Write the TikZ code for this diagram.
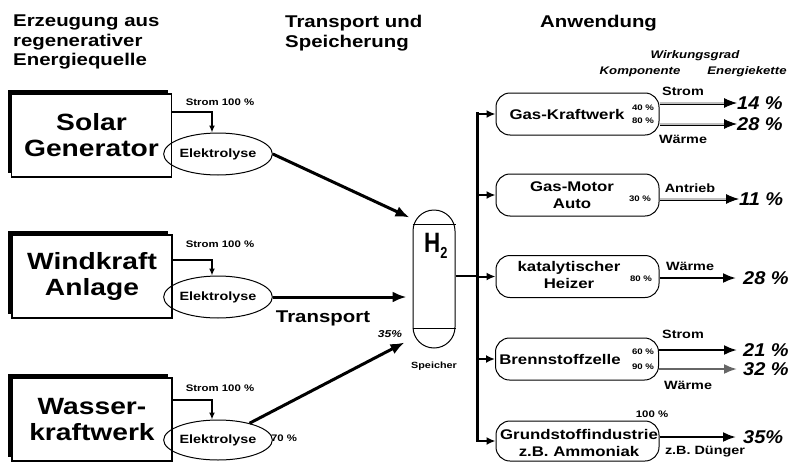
\documentclass[tikz,border=0pt]{standalone}
\usepackage{fontspec}
\setmainfont{Liberation Sans}[FakeStretch=1.2]
\newfontfamily\hfont{Liberation Sans}[FakeStretch=0.8]
\newfontfamily\vfont{Liberation Sans}[FakeStretch=1.08]
\usetikzlibrary{arrows.meta,shapes.geometric,shadows}
\begin{document}
\begin{tikzpicture}[x=1pt,y=-1pt,
  hdr/.style={font=\fontsize{17}{19.5}\selectfont\bfseries, align=left, anchor=north west, inner sep=0},
  srcbox/.style={draw, fill=white, line width=1.2pt, minimum width=160pt, minimum height=83pt, align=center, font=\fontsize{23.5}{26}\selectfont\bfseries, general shadow={fill=black, shadow xshift=-4pt, shadow yshift=4pt}},
  elx/.style={ellipse, draw, line width=1pt, minimum width=92pt, minimum height=42pt, inner sep=0, font=\fontsize{12}{14}\selectfont\bfseries},
  app/.style={draw, line width=1pt, rounded corners=14pt, minimum width=163pt, minimum height=42pt, inner sep=0},
  apptxt/.style={align=center, inner sep=0, font=\fontsize{14}{16.5}\selectfont\bfseries},
  tiny/.style={inner sep=0, font=\fontsize{8}{9}\selectfont\bfseries},
  small/.style={inner sep=0, font=\fontsize{9.5}{11}\selectfont\bfseries},
  lbl/.style={inner sep=0, font=\fontsize{12}{14}\selectfont\bfseries},
  ital/.style={inner sep=0, font=\fontsize{11}{13}\selectfont\bfseries\itshape},
  val/.style={inner sep=0, anchor=west, font=\vfont\fontsize{18.5}{21}\selectfont\bfseries\itshape},
  feed/.style={line width=1.5pt, -{Latex[length=7pt,width=6pt]}},
  mainarr/.style={line width=3pt, -{Latex[length=14pt,width=11pt]}},
  branch/.style={line width=2pt, -{Latex[length=9pt,width=8pt]}},
  outl/.style={line width=2.2pt, -{Latex[length=13pt,width=10pt]}},
  dbl/.style={double=gray!50, double distance=1.2pt, line width=0.9pt, -{Latex[length=13pt,width=10pt]}},
]
\useasboundingbox (0,0) rectangle (792,463);

% headers
\node[hdr] (h1) at (13,15) {Erzeugung aus\\regenerativer\\Energiequelle};
\node[hdr] (h2) at (285,15) {Transport und\\Speicherung};
\node[hdr] (h3) at (540,15) {Anwendung};
\node[ital] (wg) at (695,56) {Wirkungsgrad};
\node[ital] (kp) at (640,72) {Komponente};
\node[ital] (ek) at (747,72) {Energiekette};

% sources
\node[srcbox] (solar) at (91.5,135.5) {Solar\\Generator};
\node[srcbox] (wind) at (92,276.5) {Windkraft\\Anlage};
\node[srcbox] (wasser) at (92,419.5) {Wasser-\\kraftwerk};

\node[elx] (e1) at (218,154) {Elektrolyse};
\node[elx] (e2) at (218,297) {Elektrolyse};
\node[elx, minimum height=40pt] (e3) at (218,440) {Elektrolyse};

\draw[feed] ([yshift=23.5pt]solar.east) -| ([xshift=-6pt]e1.north);
\draw[feed] ([yshift=16.5pt]wind.east) -| ([xshift=-6pt]e2.north);
\draw[feed] ([yshift=19.5pt]wasser.east) -| ([xshift=-6pt]e3.north);

\node[small] (s1) at (220,102) {Strom 100 \%};
\node[small] (s2) at (220,244) {Strom 100 \%};
\node[small] (s3) at (220,388) {Strom 100 \%};

% tank
\node[draw, line width=1pt, rounded corners=21pt, minimum width=42pt, minimum height=138pt, inner sep=0] (tank) at (434,279) {};
\draw[line width=1pt] ([yshift=-15pt]tank.north west) -- ([yshift=-15pt]tank.north east);
\draw[line width=1pt] ([yshift=20pt]tank.south west) -- ([yshift=20pt]tank.south east);
\node[inner sep=0, anchor=base west] (htxt) at (424,252) {\hfont\bfseries\fontsize{28}{28}\selectfont H\raisebox{-6pt}{\fontsize{16}{16}\selectfont 2}};
\node[inner sep=0, font=\fontsize{9}{10}\selectfont\bfseries] (sp) at (434,366) {Speicher};

\draw[mainarr] (e1.east) -- ([xshift=-3pt,yshift=-8pt]tank.north west);
\draw[mainarr, shorten >=6pt] (e2.east) -- (e2.east -| tank.west);
\draw[mainarr] (e3.28) -- ([xshift=-8pt,yshift=6pt]tank.south west);

\node[inner sep=0, font=\fontsize{17}{19}\selectfont\bfseries] (tr) at (323,318) {Transport};
\node[inner sep=0, font=\fontsize{10}{12}\selectfont\bfseries\itshape] (p35) at (390,334) {35\%};
\node[small] (p70) at (284,438) {70 \%};

% bus
\coordinate (bt) at (477,112);
\coordinate (bb) at (477,442);
\draw[line width=3pt] (bt) -- (bb);
\draw[line width=2.5pt] ([yshift=3pt]tank.east) -- ([yshift=3pt]tank.east -| bt);

% applications
\node[app] (a1) at (577.5,114) {};
\node[app] (a2) at (577.5,195) {};
\node[app] (a3) at (577.5,276.5) {};
\node[app] (a4) at (577,359) {};
\node[app, minimum height=40pt] (a5) at (577.5,441) {};
\foreach \a in {a1,a2,a3,a4,a5} {\draw[branch] (\a.west -| bt) -- (\a.west);}

\node[apptxt] (t1) at (567,114) {Gas-Kraftwerk};
\node[apptxt] (t2) at (572,195) {Gas-Motor\\Auto};
\node[apptxt] (t3) at (569,275) {katalytischer\\Heizer};
\node[apptxt] (t4) at (560,359) {Brennstoffzelle};
\node[apptxt] (t5) at (579,443) {Grundstoffindustrie\\z.B. Ammoniak};

\node[tiny] (k1) at (643,108) {40 \%};
\node[tiny] (k2) at (643,121) {80 \%};
\node[tiny] (k3) at (640,199) {30 \%};
\node[tiny] (k4) at (641,279) {80 \%};
\node[tiny] (k5) at (643,352) {60 \%};
\node[tiny] (k6) at (643,367) {90 \%};
\node[small] (k7) at (652,414) {100 \%};

% values
\node[val] (v1) at (737,103) {14 \%};
\node[val] (v2) at (737,124) {28 \%};
\node[val] (v3) at (739,199) {11 \%};
\node[val] (v4) at (743,278) {28 \%};
\node[val] (v5) at (743,350) {21 \%};
\node[val] (v6) at (743,369) {32 \%};
\node[val] (v7) at (743,437) {35\%};

\draw[dbl] (v1.west -| a1.east) -- (v1.west);
\draw[dbl] (v2.west -| a1.east) -- (v2.west);
\draw[dbl] (v3.west -| a2.east) -- (v3.west);
\draw[outl, shorten >=7pt] (v4.west -| a3.east) -- (v4.west);
\draw[outl, shorten >=6pt] (v5.west -| a4.east) -- (v5.west);
\draw[outl, black!60, shorten >=6pt] (v6.west -| a4.east) -- (v6.west);
\draw[outl, shorten >=7pt] (v7.west -| a5.east) -- (v7.west);

\node[lbl] (l1) at (683,91) {Strom};
\node[lbl] (l2) at (683,139) {Wärme};
\node[lbl] (l3) at (690,188) {Antrieb};
\node[lbl] (l4) at (690,266) {Wärme};
\node[lbl] (l5) at (683,334) {Strom};
\node[lbl] (l6) at (688,385) {Wärme};
\node[lbl] (l7) at (705,452) {z.B. Dünger};
\end{tikzpicture}
\end{document}
